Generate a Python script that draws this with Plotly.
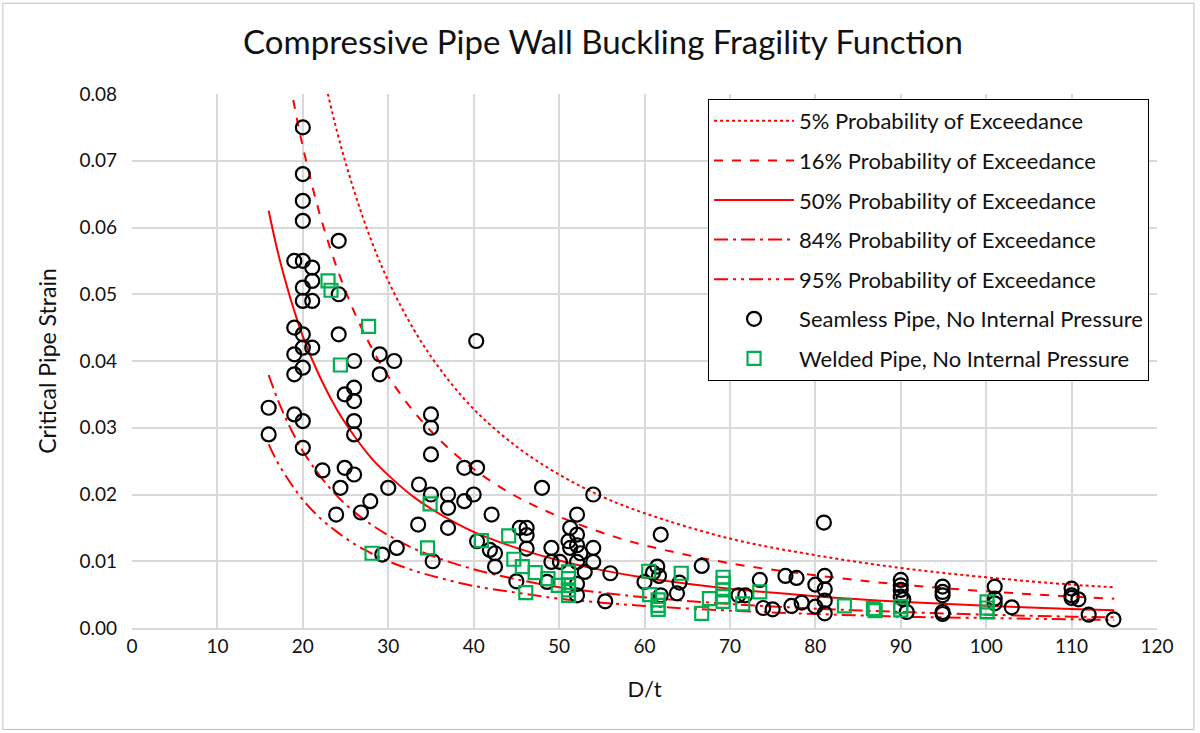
import plotly.graph_objects as go

# ---- Fragility curves ----
curve_dt = [16, 17, 18, 19, 20, 22, 24, 26, 28, 30, 33, 36, 40, 45, 50, 55, 60, 70, 80, 90, 100, 110, 115]
p05 = [0.1423, 0.1291, 0.1179, 0.1081, 0.0996, 0.0855, 0.0744, 0.0655, 0.0581, 0.0520, 0.0447, 0.0389,
       0.0328, 0.0272, 0.0230, 0.0197, 0.0172, 0.0134, 0.0109, 0.0090, 0.0076, 0.0065, 0.0061]
p16 = [0.1031, 0.0935, 0.0854, 0.0783, 0.0721, 0.0619, 0.0539, 0.0474, 0.0421, 0.0377, 0.0324, 0.0282,
       0.0238, 0.0197, 0.0167, 0.0143, 0.0124, 0.0097, 0.0079, 0.0065, 0.0055, 0.0047, 0.0044]
p50 = [0.0625, 0.0567, 0.0518, 0.0475, 0.0437, 0.0376, 0.0327, 0.0288, 0.0255, 0.0229, 0.0196, 0.0171,
       0.0144, 0.0120, 0.0101, 0.00867, 0.00754, 0.00589, 0.00477, 0.00394, 0.00333, 0.00286, 0.00266]
p84 = [0.0379, 0.0344, 0.0314, 0.0288, 0.0265, 0.0228, 0.0198, 0.0174, 0.0155, 0.0139, 0.0119, 0.0104,
       0.0088, 0.0073, 0.0061, 0.0053, 0.0046, 0.0036, 0.0029, 0.0024, 0.0020, 0.0017, 0.0016]
p95 = [0.0275, 0.0249, 0.0228, 0.0209, 0.0192, 0.0165, 0.0144, 0.0126, 0.0112, 0.0100, 0.0086, 0.0075,
       0.0063, 0.0053, 0.0044, 0.0038, 0.0033, 0.0026, 0.0021, 0.0017, 0.0015, 0.0013, 0.0012]

# ---- Seamless pipe test data ----
seamless_dt = [20, 20, 20, 20, 24.2, 19, 20, 21.1, 21.1, 20, 24.2, 20, 21.1, 19, 20, 24.2, 20, 21.1, 19, 26,
               29, 30.7, 20, 19, 29, 26, 24.9, 26, 16, 19, 20, 26, 16, 26, 20, 22.3, 24.9, 26, 24.4, 30,
               35, 35, 35, 38.9, 40.4, 33.6, 35, 37, 40, 38.9, 37, 27.9, 26.8, 23.9, 42.1, 33.5, 37, 40.4,
               41.9, 42.5, 42.5, 31, 29.3, 35.2, 40.3,
               48, 54, 52.1, 45.4, 46.2, 51.3, 46.2, 52.1, 51.1, 46.2, 49.1, 51.3, 52.1, 52.5, 54,
               49.1, 50.1, 52.1, 54, 53, 56, 45, 48.6, 52.1, 52.1, 55.4,
               61.9, 81, 61.5, 61, 61.7, 60, 64.1, 63.8, 61.9, 66.7, 71, 71.8, 73.5, 76.5, 77.8, 80,
               81.1, 81.1, 81.1, 81.1, 80, 78.4, 77.2, 73.9, 75,
               90, 90, 90, 90, 90.3, 90.7, 94.9, 94.9, 94.9, 94.9, 94.9, 101, 101, 101, 103,
               110, 110, 110, 110.8, 112, 114.9]
seamless_strain = [0.075, 0.068, 0.064, 0.061, 0.058, 0.055, 0.055, 0.054, 0.052, 0.051, 0.050, 0.049, 0.049,
                   0.045, 0.044, 0.044, 0.042, 0.042, 0.041, 0.040, 0.041, 0.040, 0.039, 0.038, 0.038, 0.036,
                   0.035, 0.034, 0.033, 0.032, 0.031, 0.031, 0.029, 0.029, 0.027, 0.0236, 0.024, 0.023, 0.021,
                   0.021, 0.032, 0.030, 0.026, 0.024, 0.024, 0.0215, 0.020, 0.020, 0.020, 0.019, 0.018, 0.019,
                   0.0173, 0.017, 0.017, 0.0155, 0.015, 0.013, 0.0117, 0.0112, 0.0092, 0.012, 0.011, 0.010,
                   0.043,
                   0.021, 0.020, 0.017, 0.015, 0.015, 0.015, 0.0139, 0.014, 0.013, 0.0119, 0.012, 0.012,
                   0.0124, 0.0112, 0.012,
                   0.0099, 0.0099, 0.0099, 0.0099, 0.0084, 0.0082, 0.007, 0.0069, 0.0066, 0.0049, 0.004,
                   0.014, 0.0158, 0.0092, 0.0083, 0.0078, 0.0069, 0.0068, 0.0052, 0.0049, 0.0093, 0.0049,
                   0.0049, 0.0072, 0.0078, 0.0075, 0.0065, 0.0078, 0.0058, 0.0041, 0.0022, 0.0032, 0.0038,
                   0.0033, 0.003, 0.0028,
                   0.0072, 0.0064, 0.0057, 0.0047, 0.0043, 0.0024, 0.0062, 0.0054, 0.0049, 0.0024, 0.0021,
                   0.0062, 0.0044, 0.0037, 0.0031,
                   0.0059, 0.0049, 0.0045, 0.0043, 0.002, 0.0013]

# ---- Welded pipe test data ----
welded_dt = [22.95, 23.3, 27.7, 24.4, 34.9, 28.1, 34.6, 40.9, 44.1, 44.7, 45.7, 47.2, 48.7, 49.9,
             51.1, 51.1, 51.1, 51.1, 51.1, 46.1, 60.5, 64.3, 60.6, 61.6, 61.6, 61.6, 66.7, 67.6,
             69.2, 69.2, 69.2, 69.2, 69.2, 71.5, 73.5, 83.4, 86.8, 87, 90, 90, 100.1, 100.1, 100.1]
welded_strain = [0.052, 0.0506, 0.0452, 0.0394, 0.0186, 0.0112, 0.012, 0.0131, 0.0138, 0.0103, 0.0092,
                 0.0083, 0.0074, 0.0064, 0.0084, 0.0074, 0.0064, 0.0057, 0.0049, 0.0053, 0.0085, 0.0082,
                 0.005, 0.0042, 0.0034, 0.0028, 0.0022, 0.0044, 0.0076, 0.0067, 0.0057, 0.0047, 0.004,
                 0.0036, 0.0054, 0.0033, 0.0029, 0.0026, 0.0032, 0.0027, 0.0039, 0.003, 0.0024]

x_ticks = [0, 10, 20, 30, 40, 50, 60, 70, 80, 90, 100, 110, 120]
y_ticks = [0.00, 0.01, 0.02, 0.03, 0.04, 0.05, 0.06, 0.07, 0.08]

FONT = "Lato, 'Open Sans', sans-serif"
RED = "#FF0000"

fig = go.Figure()

curves = [
    ("5% Probability of Exceedance", p05, "dot"),
    ("16% Probability of Exceedance", p16, "dash"),
    ("50% Probability of Exceedance", p50, "solid"),
    ("84% Probability of Exceedance", p84, "14px,5px,3px,5px"),
    ("95% Probability of Exceedance", p95, "14px,5px,3px,5px,3px,5px"),
]
for i, (name, vals, dash) in enumerate(curves):
    fig.add_trace(go.Scatter(
        x=curve_dt, y=vals, mode="lines", name=name,
        line=dict(color=RED, width=2, dash=dash, shape="spline"),
        legendgroup=f"g{i}", legendrank=i + 1,
    ))

fig.add_trace(go.Scatter(
    x=seamless_dt, y=seamless_strain, mode="markers",
    name="Seamless Pipe, No Internal Pressure",
    marker=dict(symbol="circle-open", size=14, color="black", line=dict(width=2.2, color="black")),
    legendgroup="g5", legendrank=6,
))
fig.add_trace(go.Scatter(
    x=welded_dt, y=welded_strain, mode="markers",
    name="Welded Pipe, No Internal Pressure",
    marker=dict(symbol="square-open", size=13, color="#00B050", line=dict(width=2.2, color="#00B050")),
    legendgroup="g6", legendrank=7,
))

fig.update_layout(
    width=1200, height=733,
    margin=dict(l=132, r=43, t=94, b=105),
    paper_bgcolor="white", plot_bgcolor="white",
    font=dict(family=FONT, size=19, color="#111111"),
    title=dict(text="Compressive Pipe Wall Buckling Fragility Function",
               x=0.5025, xanchor="center", y=0.942, yanchor="middle",
               font=dict(family=FONT, size=33, color="#111111")),
    showlegend=True,
    legend=dict(x=0.562, y=0.9906, xanchor="left", yanchor="top",
                bgcolor="white", bordercolor="black", borderwidth=1,
                font=dict(family=FONT, size=22, color="#111111"),
                traceorder="grouped", tracegroupgap=8, itemwidth=80,
                itemsizing="trace"),
)
fig.update_xaxes(
    range=[0, 120], tickvals=x_ticks, ticktext=[str(v) for v in x_ticks],
    showgrid=True, gridcolor="#D9D9D9", gridwidth=2,
    showline=True, linecolor="#D9D9D9", linewidth=2,
    zeroline=False, ticks="", tickfont=dict(size=19),
    title=dict(text="D/t", font=dict(size=22), standoff=26),
)
fig.update_yaxes(
    range=[0, 0.08], tickvals=y_ticks, ticktext=[f"{v:.2f}" for v in y_ticks],
    showgrid=True, gridcolor="#D9D9D9", gridwidth=2,
    showline=False, zeroline=False, ticks="", tickfont=dict(size=19),
    ticklabelstandoff=14,
    title=dict(text="Critical Pipe Strain", font=dict(size=23), standoff=16),
)
# outer chart border
fig.add_shape(type="rect", xref="paper", yref="paper",
              x0=-0.126, x1=1.036, y0=-0.19, y1=1.17,
              line=dict(color="#BFBFBF", width=1), fillcolor="rgba(0,0,0,0)", layer="below")

fig.write_html("out.html")
